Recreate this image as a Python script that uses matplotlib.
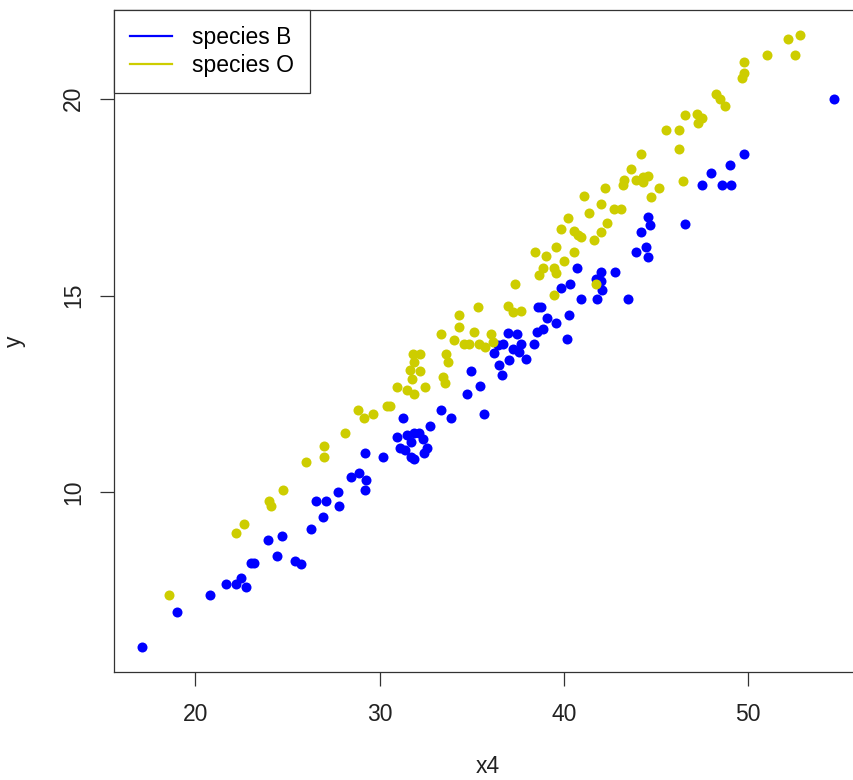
import matplotlib.pyplot as plt
from matplotlib.lines import Line2D

# species B (blue)
x4_b = [17.09, 18.98, 20.78, 21.65, 22.2, 22.5, 22.76, 23.0, 23.2, 23.93,
        24.73, 24.42, 25.4, 25.76, 26.3, 26.93, 26.54, 27.1, 27.72, 27.8,
        28.44, 28.9, 29.26, 29.2, 29.22, 30.16, 31.28,
        30.95, 31.12, 31.48, 31.88, 32.15, 31.7, 32.34, 32.6, 32.39, 31.7, 31.88, 31.38,
        32.75, 33.33, 33.88, 34.74, 34.96, 35.47, 35.68,
        36.23, 36.41, 36.68, 36.96, 37.46, 37.68, 37.59, 37.04, 36.5, 36.63, 37.95, 37.23,
        38.37, 38.55, 38.86, 38.62, 38.77, 39.09, 39.58, 40.3, 40.16, 39.85,
        40.36, 40.72, 40.94, 41.79, 41.99, 41.76, 42.07, 41.99, 42.75, 43.48,
        44.57, 44.65, 44.16, 43.93, 44.47, 44.57, 46.55, 47.5, 48.59, 49.09,
        47.97, 49.0, 49.78, 54.65]
y_b = [6.06, 6.97, 7.39, 7.67, 7.68, 7.83, 7.6, 8.2, 8.2, 8.79,
       8.88, 8.38, 8.26, 8.18, 9.08, 9.37, 9.77, 9.77, 10.0, 9.66,
       10.4, 10.48, 10.31, 10.06, 10.99, 10.89, 11.88,
       11.41, 11.12, 11.45, 11.51, 11.51, 11.28, 11.35, 11.12, 10.99, 10.9, 10.86, 11.07,
       11.69, 12.1, 11.88, 12.49, 13.09, 12.7, 11.99,
       13.53, 13.74, 13.78, 14.04, 14.02, 13.78, 13.57, 13.36, 13.23, 12.98, 13.38, 13.65,
       13.78, 14.08, 14.16, 14.71, 14.71, 14.44, 14.29, 14.5, 13.89, 15.18,
       15.29, 15.71, 14.92, 14.91, 15.61, 15.43, 15.13, 15.37, 15.6, 14.91,
       17.0, 16.78, 16.61, 16.11, 16.23, 15.98, 16.81, 17.8, 17.8, 17.8,
       18.1, 18.32, 18.6, 20.0]

# species O (yellow)
x4_o = [18.59, 22.19, 22.66, 24.02, 24.11, 24.78, 25.98, 27.0, 27.0, 28.11,
        28.84, 29.13, 29.62, 30.4, 30.58,
        31.66, 31.74, 32.2, 31.79, 32.2, 31.88, 30.94, 31.48, 31.85, 32.46,
        33.46, 33.55, 33.6, 33.7, 33.33, 34.02, 34.29, 34.29, 35.11, 34.6,
        34.87, 35.33, 35.41, 35.72, 36.05, 36.14, 36.96, 37.23, 37.68, 37.35,
        39.49, 38.86, 38.67, 39.49, 39.58, 39.55, 39.04, 38.46, 40.54, 40.0,
        39.85, 40.54, 40.76, 40.94, 40.22, 41.36, 41.12, 41.99, 42.03, 41.66,
        42.35, 42.72, 43.08, 42.24, 43.29, 43.2, 43.93, 44.29, 44.57, 44.29,
        45.14, 44.75, 43.62, 44.18, 41.72, 46.47, 46.23, 45.52, 46.23, 46.55,
        47.24, 47.52, 47.28, 48.28, 48.46, 48.77, 49.78, 49.78, 49.69, 51.05,
        52.14, 52.84, 52.53]
y_o = [7.39, 8.96, 9.19, 9.79, 9.66, 10.06, 10.76, 10.89, 11.17, 11.5,
       12.1, 11.88, 11.98, 12.2, 12.2,
       13.1, 12.89, 13.09, 13.51, 13.51, 13.31, 12.68, 12.61, 12.51, 12.68,
       12.92, 12.78, 13.51, 13.31, 14.02, 13.88, 14.5, 14.19, 14.08, 13.78,
       13.78, 14.71, 13.76, 13.69, 14.02, 13.82, 14.73, 14.58, 14.61, 15.29,
       15.01, 15.71, 15.52, 15.71, 15.56, 16.23, 16.0, 16.11, 16.11, 15.88,
       16.7, 16.64, 16.53, 16.49, 16.98, 17.1, 17.52, 17.32, 16.61, 16.4,
       16.83, 17.21, 17.21, 17.73, 17.93, 17.8, 17.93, 18.01, 18.04, 17.88,
       17.73, 17.5, 18.21, 18.6, 15.29, 17.9, 18.71, 19.2, 19.2, 19.59,
       19.62, 19.52, 19.39, 20.13, 19.98, 19.82, 20.93, 20.65, 20.52, 21.12,
       21.52, 21.63, 21.12]

labels = ["species B", "species O"]
colors = ["#0000FF", "#CDCD00"]

plt.rcParams['font.family'] = ['Liberation Sans', 'DejaVu Sans']

fig = plt.figure(figsize=(8.54, 7.8), dpi=100)
# R-style plot region; right edge falls just outside the picture
ax = fig.add_axes([114 / 854, 108 / 780, 747.5 / 854, 662 / 780])

ax.scatter(x4_b, y_b, s=52, color=colors[0], linewidths=0, zorder=3)
ax.scatter(x4_o, y_o, s=52, color=colors[1], linewidths=0, zorder=3)

# axis limits like R: data range extended by 4%
allx = x4_b + x4_o
ally = y_b + y_o
dx = (max(allx) - min(allx)) * 0.04
dy = (max(ally) - min(ally)) * 0.04
ax.set_xlim(min(allx) - dx, max(allx) + dx)
ax.set_ylim(min(ally) - dy, max(ally) + dy)

ax.set_xticks([20, 30, 40, 50])
ax.set_yticks([10, 15, 20])
ax.tick_params(direction='out', length=10, width=0.9, labelsize=16.5,
               color='#333333', labelcolor='#222222')
ax.tick_params(axis='x', pad=12)
ax.tick_params(axis='y', pad=11)
plt.setp(ax.get_yticklabels(), rotation=90, va='center')

for sp in ax.spines.values():
    sp.set_linewidth(0.9)
    sp.set_color('#333333')

ax.set_xlabel("x4", fontsize=16.5, labelpad=21, color='#222222')
ax.set_ylabel("y", fontsize=16.5, labelpad=26, color='#222222')

handles = [Line2D([], [], color=c, lw=1.6) for c in colors]
leg = ax.legend(handles, labels, loc='upper left', bbox_to_anchor=(0, 1),
                borderaxespad=0, fontsize=16.5, fancybox=False,
                edgecolor='#333333', framealpha=1, handlelength=1.85,
                handletextpad=0.85, borderpad=0.7, labelspacing=0.22)
leg.get_frame().set_linewidth(0.9)

fig.savefig("out.png", dpi=100)
